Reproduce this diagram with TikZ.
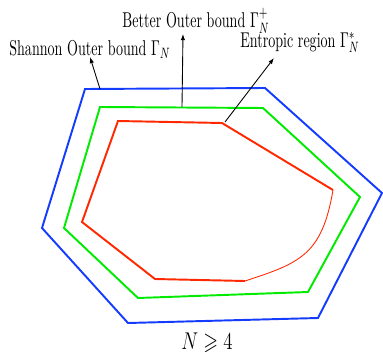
\documentclass[tikz,border=0pt]{standalone}
\usepackage{amsmath,amssymb}
\usepackage{graphicx}
\usepackage{tikz}
\usetikzlibrary{arrows.meta}
\definecolor{sblue}{RGB}{20,60,255}
\definecolor{sgreen}{RGB}{0,235,0}
\definecolor{sred}{RGB}{255,40,0}
\newcommand{\tall}[1]{\scalebox{0.8}[1.22]{#1}}
\tikzset{
  region/.style={line width=1.1pt, line join=miter},
  lbl/.style={inner sep=0pt, anchor=base, font=\fontsize{10}{12}\selectfont},
  pointer/.style={->, line width=0.5pt}
}

\begin{document}
\begin{tikzpicture}[>={Latex[length=3.5pt,width=2.5pt]},x=0.02cm,y=-0.02cm]
\useasboundingbox (0,0) rectangle (383,352);
% regions
\draw[region, sblue] (85,89) -- (265,88) -- (382,193) -- (318,318) -- (128,323) -- (42,228) -- cycle;
\draw[region, sgreen] (100,107) -- (263,108) -- (360,197) -- (308,292) -- (138,298) -- (64,228) -- cycle;
\draw[region, sred] (333,190) -- (222,123) -- (118,121) -- (82,222) -- (155,279) -- (245,281);
\draw[sred, line width=0.5pt] (245,281) .. controls (300,263) and (322,255) .. (333,190);
% labels
\node[lbl] (shannon) at (90,55) {\tall{Shannon Outer bound $\Gamma_N$}};
\node[lbl] (better) at (196,27) {\tall{Better Outer bound $\Gamma_N^+$}};
\node[lbl] (entropic) at (300,47) {\tall{Entropic region $\Gamma_N^*$}};
\node[lbl, font=\fontsize{12}{14}\selectfont] (cond) at (207,349) {\scalebox{0.9}[1.15]{$N\geqslant 4$}};
% pointers
\coordinate (sfoot) at (100,89);
\coordinate (stip) at (90,57);
\coordinate (bfoot) at (182,107);
\coordinate (btip) at (183,34);
\coordinate (efoot) at (225,122);
\coordinate (etip) at (274,58);
\draw[pointer] (sfoot) -- (stip);
\draw[pointer] (bfoot) -- (btip);
\draw[pointer] (efoot) -- (etip);
\end{tikzpicture}
\end{document}
